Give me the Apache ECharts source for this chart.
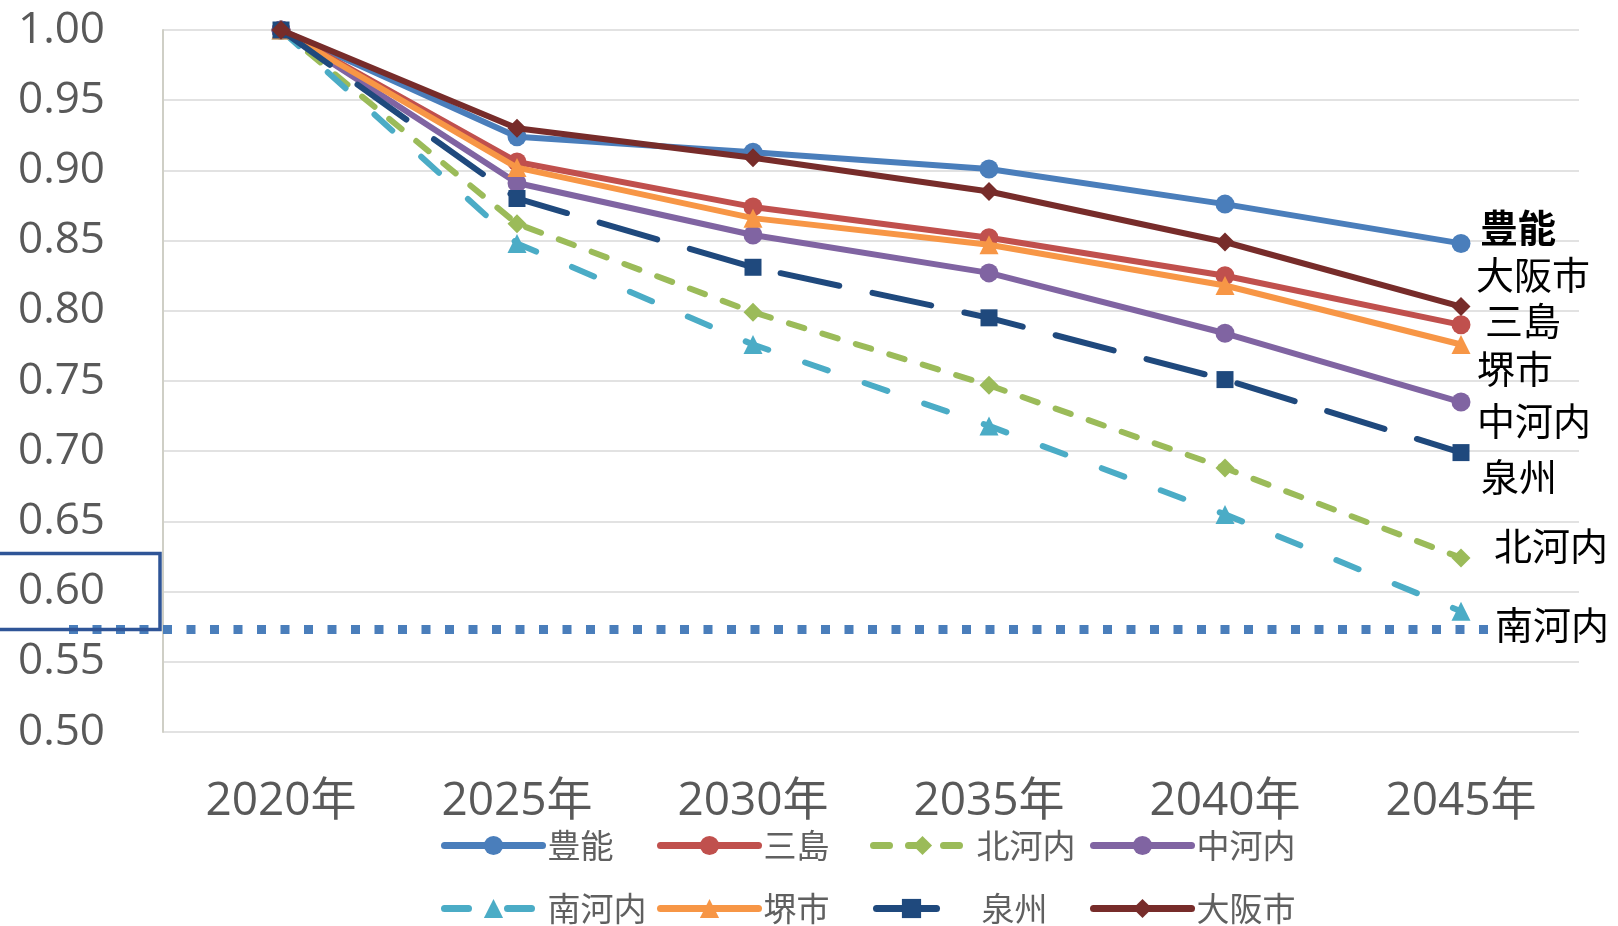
<!DOCTYPE html>
<html>
<head>
<meta charset="utf-8">
<script src="https://cdn.jsdelivr.net/npm/echarts@6/dist/echarts.min.js"></script>
<style>
html, body { margin: 0; padding: 0; background: #fff; }
#chart { width: 1618px; height: 926px; }
</style>
</head>
<body>
<div id="chart"></div>
<script>
// data
const years = ['2020年', '2025年', '2030年', '2035年', '2040年', '2045年'];
const seriesNames = ['豊能', '三島', '北河内', '中河内', '南河内', '堺市', '泉州', '大阪市'];
const toyono        = [1.000, 0.924, 0.913, 0.901, 0.876, 0.848];
const mishima       = [1.000, 0.906, 0.874, 0.852, 0.825, 0.790];
const kitakawachi   = [1.000, 0.862, 0.799, 0.747, 0.688, 0.624];
const nakakawachi   = [1.000, 0.891, 0.854, 0.827, 0.784, 0.735];
const minamikawachi = [1.000, 0.848, 0.776, 0.718, 0.655, 0.586];
const sakai         = [1.000, 0.902, 0.866, 0.847, 0.818, 0.776];
const senshu        = [1.000, 0.880, 0.831, 0.795, 0.751, 0.699];
const osaka         = [1.000, 0.930, 0.909, 0.885, 0.849, 0.803];
const thresholdValue = 0.573;
const boxedTick = 0.60;
const yMin = 0.5, yMax = 1.0, yStep = 0.05;

const values = [toyono, mishima, kitakawachi, nakakawachi, minamikawachi, sakai, senshu, osaka];

// look of each line (same order as seriesNames)
const looks = [
  { color: '#4a7ebb', symbol: 'circle',   dash: 'solid',  size: 19, label: [11, -16], bold: true },
  { color: '#c0504d', symbol: 'circle',   dash: 'solid',  size: 19, label: [16, -4] },
  { color: '#9bbb59', symbol: 'diamond',  dash: [16, 19], size: 19, label: [25, -12] },
  { color: '#8064a2', symbol: 'circle',   dash: 'solid',  size: 19, label: [8, 19] },
  { color: '#4bacc6', symbol: 'triangle', dash: [24, 39], size: 19, label: [26, 13] },
  { color: '#f79646', symbol: 'triangle', dash: 'solid',  size: 19, label: [8, 24] },
  { color: '#1f497d', symbol: 'rect',     dash: [60, 34], size: 17, label: [12, 24] },
  { color: '#772c2a', symbol: 'diamond',  dash: 'solid',  size: 19, label: [7, -32] }
];

const font = "'Open Sans', 'Noto Sans CJK JP', sans-serif";
const cjk = "'Noto Sans CJK JP', sans-serif";
const legendCols = [436, 652, 865, 1085];
const legendRows = [824, 887];

const chart = echarts.init(document.getElementById('chart'));

const series = seriesNames.map((name, i) => ({
  name: name,
  type: 'line',
  data: values[i],
  symbol: looks[i].symbol,
  symbolSize: looks[i].size,
  lineStyle: { color: looks[i].color, width: 6, type: looks[i].dash, cap: 'round' },
  itemStyle: { color: looks[i].color },
  endLabel: {
    show: true,
    formatter: '{a}',
    offset: looks[i].label,
    color: '#000',
    fontFamily: cjk,
    fontSize: 38,
    fontWeight: looks[i].bold ? 'bold' : 'normal'
  },
  z: 2 + i
}));

const legends = seriesNames.map((name, i) => {
  const short = name === '泉州';
  return {
    data: [name],
    left: legendCols[i % 4] + (short ? 3 : 0),
    top: legendRows[Math.floor(i / 4)],
    itemWidth: short ? 70 : 98,
    itemHeight: 24,
    selectedMode: false,
    lineStyle: { width: 7, cap: 'round' },
    textStyle: {
      fontSize: 33, color: '#606060', fontFamily: cjk,
      padding: [0, 0, 0, short ? 30 : 0]
    }
  };
});

chart.setOption({
  animation: false,
  backgroundColor: '#fff',
  grid: { left: 163, right: 39, top: 30, bottom: 194 },
  legend: legends,
  xAxis: {
    type: 'category',
    data: years,
    boundaryGap: true,
    axisLine: { show: false },
    axisTick: { show: false },
    axisLabel: { color: '#595959', fontSize: 46, fontFamily: font, margin: 47 }
  },
  yAxis: {
    type: 'value',
    min: yMin,
    max: yMax,
    interval: yStep,
    axisLine: { show: true, lineStyle: { color: '#cfcfc6', width: 2 } },
    axisTick: { show: false },
    splitLine: { lineStyle: { color: '#d9d9d9', width: 1.5 } },
    axisLabel: {
      color: '#595959', fontSize: 44, fontFamily: font, margin: 58,
      formatter: v => v.toFixed(2)
    }
  },
  series: series
});

// dotted threshold line and box round the 0.60 label, placed through the y scale
const yLine = chart.convertToPixel({ yAxisIndex: 0 }, thresholdValue);
const yBox = chart.convertToPixel({ yAxisIndex: 0 }, boxedTick);
chart.setOption({
  graphic: [
    {
      type: 'line',
      shape: { x1: 69, y1: yLine, x2: 1488, y2: yLine },
      style: { stroke: '#4a7ebb', lineWidth: 9, lineDash: [9, 14.5] },
      z: 1
    },
    {
      type: 'rect',
      shape: { x: -2, y: yBox - 38, width: 162, height: 76 },
      style: { fill: null, stroke: '#2f5597', lineWidth: 3.5 },
      z: 20
    }
  ]
});
</script>
</body>
</html>
